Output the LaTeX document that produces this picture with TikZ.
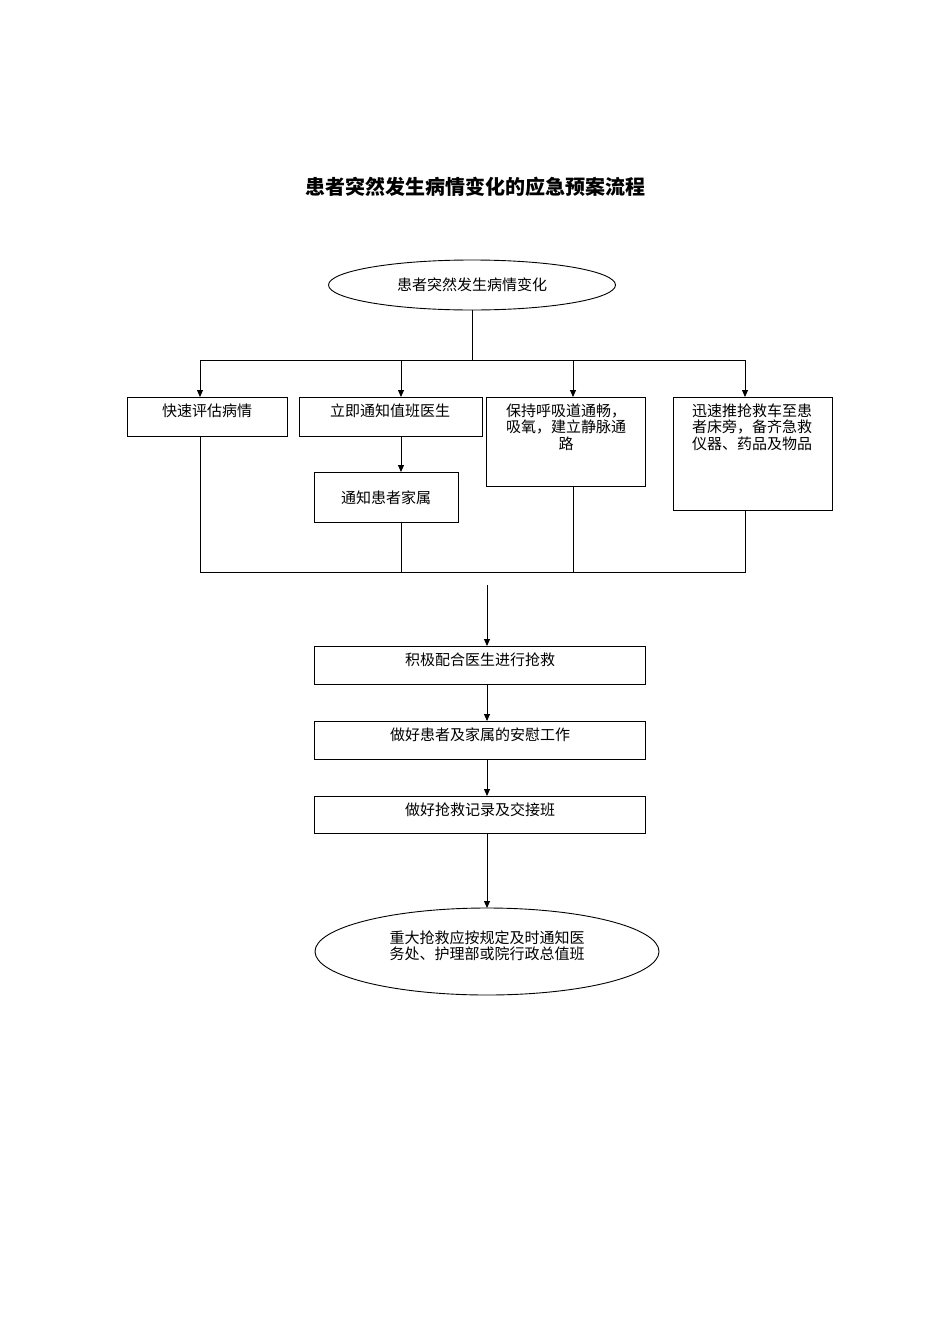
\documentclass[tikz,border=0pt]{standalone}
\usepackage{fontspec}
\setmainfont{Noto Sans CJK SC}
\usetikzlibrary{arrows.meta,shapes.geometric}
\begin{document}
\begin{tikzpicture}[x=1pt,y=-1pt,line width=0.9pt,
 arr/.style={-{Triangle[length=7pt,width=6pt]}},
 bx/.style={draw},
 tx/.style={font=\fontsize{15}{16.5}\selectfont,align=center,anchor=north,inner sep=0pt},
 el/.style={draw,ellipse,inner sep=0pt}]
\useasboundingbox (0,0) rectangle (950,1344);
\node[font=\fontsize{20}{22}\selectfont\bfseries] (title) at (475,187) {患者突然发生病情变化的应急预案流程};
\node[el,minimum width=287pt,minimum height=50pt,font=\fontsize{15}{16}\selectfont] (e1) at (472,285) {患者突然发生病情变化};
\coordinate (h) at (472,360);
\draw (e1.south) -- (h);
\draw (200,360) -- (745,360);
\draw[bx] (127,397) rectangle (287,436); \node[tx] (t1) at (207,403) {快速评估病情};
\draw[bx] (299,397) rectangle (482,436); \node[tx] (t2) at (390,403) {立即通知值班医生};
\draw[bx] (314,472) rectangle (458,522); \node[tx] (t3) at (386,490) {通知患者家属};
\draw[bx] (486,397) rectangle (645,486); \node[tx] (t4) at (566,403) {保持呼吸道通畅，\\吸氧，建立静脉通\\路};
\draw[bx] (673,397) rectangle (832,510); \node[tx] (t5) at (752,403) {迅速推抢救车至患\\者床旁，备齐急救\\仪器、药品及物品};
\foreach \x in {200,401,573,745} \draw[arr] (\x,360) -- (\x,397);
\draw[arr] (401,436) -- (401,472);
\draw (200,436) -- (200,572) -- (745,572) -- (745,510);
\draw (401,522) -- (401,572);
\draw (573,486) -- (573,572);
\draw[bx] (314,646) rectangle (645,684); \node[tx] (t6) at (480,652) {积极配合医生进行抢救};
\draw[bx] (314,721) rectangle (645,759); \node[tx] (t7) at (480,727) {做好患者及家属的安慰工作};
\draw[bx] (314,796) rectangle (645,833); \node[tx] (t8) at (480,802) {做好抢救记录及交接班};
\draw[arr] (487,585) -- (487,646);
\draw[arr] (487,684) -- (487,721);
\draw[arr] (487,759) -- (487,796);
\draw[arr] (487,833) -- (487,908);
\node[el,minimum width=344pt,minimum height=87pt] (e2) at (487,951.5) {};
\node[tx] (t9) at (487,930) {重大抢救应按规定及时通知医\\务处、护理部或院行政总值班};
\end{tikzpicture}
\end{document}
